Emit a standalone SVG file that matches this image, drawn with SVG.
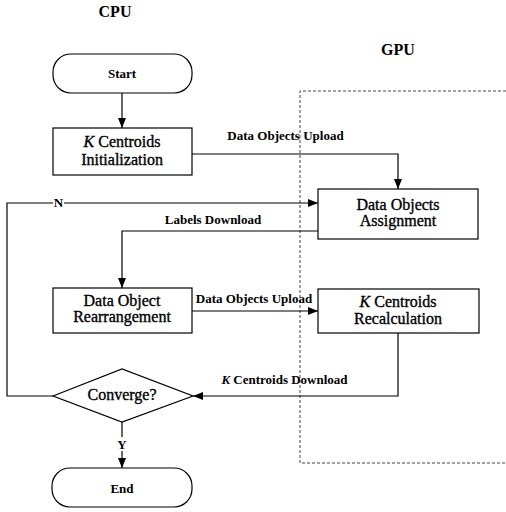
<svg xmlns="http://www.w3.org/2000/svg" width="506" height="512" viewBox="0 0 506 512">
<defs>
<marker id="arr" markerWidth="10" markerHeight="8" refX="10" refY="4" orient="auto" markerUnits="userSpaceOnUse">
<path d="M0,0 L10,4 L0,8 Z" fill="#000"/>
</marker>
<style>
.box{fill:#fff;stroke:#000;stroke-width:1.2}
.edge{fill:none;stroke:#000;stroke-width:1.2}
.t{font-family:"Liberation Serif","Times New Roman",serif;font-size:16px;text-anchor:middle;fill:#000;stroke:#000;stroke-width:0.35}
.b{font-family:"Liberation Serif","Times New Roman",serif;font-size:13px;font-weight:bold;text-anchor:middle;fill:#000}
.h{font-family:"Liberation Serif","Times New Roman",serif;font-size:16px;font-weight:bold;text-anchor:middle;fill:#000}
</style>
</defs>
<rect width="506" height="512" fill="#fff"/>
<text class="h" x="115" y="17">CPU</text>
<text class="h" x="398" y="55">GPU</text>
<path d="M506,91 H300 V463 H506" fill="none" stroke="#444" stroke-width="1" stroke-dasharray="3,2"/>
<g id="connectors">
<path class="edge" d="M122,93 V128" marker-end="url(#arr)"/>
<path class="edge" d="M192,154 H398 V189" marker-end="url(#arr)"/>
<path class="edge" d="M53,396 H7 V203 H318" marker-end="url(#arr)"/>
<path class="edge" d="M318,231 H122 V288" marker-end="url(#arr)"/>
<path class="edge" d="M192,311 H318" marker-end="url(#arr)"/>
<path class="edge" d="M398,333 V396 H193" marker-end="url(#arr)"/>
<path class="edge" d="M122,422 V468" marker-end="url(#arr)"/>
<rect x="53" y="197" width="11" height="12" fill="#fff"/>
<text class="b" x="58.5" y="207">N</text>
<rect x="116" y="437" width="12" height="14" fill="#fff"/>
<text class="b" x="122" y="449">Y</text>
<text class="b" x="285.5" y="140">Data Objects Upload</text>
<text class="b" x="213" y="224">Labels Download</text>
<text class="b" x="254" y="303">Data Objects Upload</text>
<text class="b" x="284.5" y="384"><tspan font-style="italic">K</tspan> Centroids Download</text>
</g>
<g id="start">
<rect class="box" x="53" y="54" width="139" height="39" rx="18" ry="18"/>
<text class="b" x="122" y="78">Start</text>
</g>
<g id="init">
<rect class="box" x="53" y="128" width="139" height="47"/>
<text class="t" x="122" y="147"><tspan font-style="italic">K</tspan> Centroids</text>
<text class="t" x="122" y="165">Initialization</text>
</g>
<g id="assign">
<rect class="box" x="318" y="189" width="160" height="50"/>
<text class="t" x="398" y="210">Data Objects</text>
<text class="t" x="398" y="226">Assignment</text>
</g>
<g id="rearrange">
<rect class="box" x="53" y="288" width="139" height="45"/>
<text class="t" x="122" y="306">Data Object</text>
<text class="t" x="122" y="322">Rearrangement</text>
</g>
<g id="recalc">
<rect class="box" x="318" y="289" width="161" height="44"/>
<text class="t" x="398" y="306.5"><tspan font-style="italic">K</tspan> Centroids</text>
<text class="t" x="398" y="324">Recalculation</text>
</g>
<g id="converge">
<path class="box" d="M53,396 L122,369 L193,396 L122,422 Z"/>
<text class="t" x="122" y="400">Converge?</text>
</g>
<g id="end">
<rect class="box" x="52" y="468" width="140" height="39" rx="18" ry="18"/>
<text class="b" x="122" y="493">End</text>
</g>
</svg>
